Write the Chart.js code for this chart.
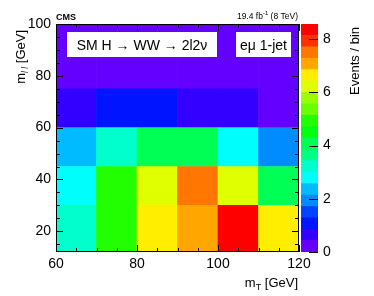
<!DOCTYPE html>
<html>
<head>
<meta charset="utf-8">
<script src="https://cdn.jsdelivr.net/npm/chart.js@4/dist/chart.umd.min.js"></script>
<style>
  html, body { margin: 0; padding: 0; background: #fff; }
  #wrap { position: relative; width: 374px; height: 296px; }
  #main { position: absolute; left: 0; top: 0; }
  #zbar { position: absolute; left: 290px; top: 0; }
</style>
</head>
<body>
<div id="wrap">
  <canvas id="main" width="374" height="296"></canvas>
  <canvas id="zbar" width="84" height="296"></canvas>
</div>
<script>
// bin edges
const xEdges = [60, 70, 80, 90, 100, 110, 120];   // mT [GeV]
const yEdges = [12, 30, 45, 60, 75, 100];         // mll [GeV]

// events / bin, one array per mll row, bottom to top
const row12to30 = [3.2, 4.9, 6.6, 7.1, 8.57, 6.6];
const row30to45 = [2.8, 4.9, 6.2, 7.5, 6.2, 4.1];
const row45to60 = [2.4, 3.2, 4.1, 4.1, 2.8, 1.9];
const row60to75 = [0.64, 1.07, 1.07, 0.64, 0.64, 0.2];
const row75to100 = [0.2, 0.2, 0.2, 0.2, 0.2, 0.15];
const rows = [row12to30, row30to45, row45to60, row60to75, row75to100];

const xTicks = [60, 80, 100, 120];
const yTicks = [20, 40, 60, 80, 100];
const zTicks = [0, 2, 4, 6, 8];
const nContours = 20;

const fontFam = "'Liberation Sans', Arial, Helvetica, sans-serif";
const zMax = Math.max(...rows.flat());

// ROOT "pretty" palette, 50 colours, picked by contour level
function levelColor(j) {
    const idx = Math.floor((j + 0.99) * 50 / nContours);
    const hue = 280 - (idx + 1) * 5.6;
    return `hsl(${hue},100%,50%)`;
}
function cellColor(v) {
    const j = Math.min(nContours - 1, Math.floor(v / zMax * nContours));
    return levelColor(j);
}

function richText(ctx, parts, x, y, align) {
    let total = 0;
    parts.forEach(p => {
        ctx.font = `${p.style || 'normal'} ${p.weight || 'normal'} ${p.size}px ${fontFam}`;
        p.w = ctx.measureText(p.text).width;
        total += p.w;
    });
    let cx = align === 'right' ? x - total : align === 'center' ? x - total / 2 : x;
    parts.forEach(p => {
        ctx.font = `${p.style || 'normal'} ${p.weight || 'normal'} ${p.size}px ${fontFam}`;
        ctx.fillText(p.text, cx, y + (p.dy || 0));
        cx += p.w;
    });
}

function line(ctx, x1, y1, x2, y2) {
    ctx.beginPath();
    ctx.moveTo(x1, y1);
    ctx.lineTo(x2, y2);
    ctx.stroke();
}

const decor = {
    id: 'decor',
    afterDatasetsDraw(chart) {
        const { ctx, chartArea: a, scales: { x, y } } = chart;
        ctx.save();
        ctx.strokeStyle = '#000';
        ctx.lineWidth = 1;
        // inner ticks, ROOT style
        for (let v = 60; v <= 120; v += 5) {
            const px = Math.round(x.getPixelForValue(v)) + 0.5;
            const len = xTicks.includes(v) ? 7 : 4;
            line(ctx, px, a.bottom, px, a.bottom - len);
            line(ctx, px, a.top, px, a.top + len);
        }
        for (let v = 15; v <= 100; v += 5) {
            const py = Math.round(y.getPixelForValue(v)) + 0.5;
            const len = yTicks.includes(v) ? 7 : 4;
            line(ctx, a.left, py, a.left + len, py);
            line(ctx, a.right, py, a.right - len, py);
        }
        ctx.strokeRect(Math.round(a.left) + 0.5, Math.round(a.top) + 0.5,
            Math.round(a.width) - 1, Math.round(a.height) - 1);

        // labels inside the frame
        ctx.fillStyle = '#fff';
        ctx.fillRect(67, 32, 150, 25);
        ctx.fillRect(236, 32, 55, 25);
        ctx.fillStyle = '#000';
        ctx.textBaseline = 'alphabetic';
        ctx.textAlign = 'left';
        richText(ctx, [{ text: 'SM H \u2192 WW \u2192 2l2\u03bd', size: 14 }], 142, 49.5, 'center');
        richText(ctx, [{ text: 'e\u03bc 1-jet', size: 14 }], 263.5, 49.5, 'center');
        ctx.restore();
    },
    afterDraw(chart) {
        const { ctx } = chart;
        ctx.save();
        ctx.fillStyle = '#000';
        ctx.textBaseline = 'alphabetic';
        ctx.textAlign = 'left';
        richText(ctx, [{ text: 'CMS', size: 9, weight: 'bold' }], 56, 19.5, 'left');
        richText(ctx, [
            { text: '19.4 fb', size: 8.5 },
            { text: '-1', size: 6, dy: -3.5 },
            { text: ' (8 TeV)', size: 8.5 }
        ], 298, 18.7, 'right');
        // x title
        richText(ctx, [
            { text: 'm', size: 13 },
            { text: 'T', size: 9, dy: 3 },
            { text: ' [GeV]', size: 13 }
        ], 298, 286.5, 'right');
        // y title
        ctx.translate(24.5, 30);
        ctx.rotate(-Math.PI / 2);
        richText(ctx, [
            { text: 'm', size: 13 },
            { text: 'l l', size: 8.5, style: 'italic', dy: 3 },
            { text: ' [GeV]', size: 13 }
        ], 0, 0, 'right');
        ctx.restore();
    }
};

const datasets = rows.map((vals, r) => ({
    data: vals.map((v, i) => ({ x: (xEdges[i] + xEdges[i + 1]) / 2, y: [yEdges[r], yEdges[r + 1]] })),
    backgroundColor: vals.map(cellColor),
    borderWidth: 0,
    grouped: false,
    barPercentage: 1,
    categoryPercentage: 1
}));

const tickFont = { family: fontFam, size: 14 };

new Chart(document.getElementById('main'), {
    type: 'bar',
    data: { datasets },
    options: {
        responsive: false,
        animation: false,
        layout: { padding: { left: 0, right: 75, top: 24, bottom: 0 } },
        plugins: { legend: { display: false }, tooltip: { enabled: false } },
        scales: {
            x: {
                type: 'linear', min: 60, max: 120, offset: false,
                afterBuildTicks: s => { s.ticks = xTicks.map(v => ({ value: v })); },
                afterFit: s => { s.height = 44; },
                grid: { display: false, drawTicks: false, offset: false },
                border: { display: false },
                ticks: { color: '#000', font: tickFont, padding: 4, maxRotation: 0 }
            },
            y: {
                type: 'linear', min: 12, max: 100,
                afterBuildTicks: s => { s.ticks = yTicks.map(v => ({ value: v })); },
                afterFit: s => { s.width = 56; },
                grid: { display: false, drawTicks: false },
                border: { display: false },
                ticks: { color: '#000', font: tickFont, padding: 5 }
            }
        }
    },
    plugins: [decor]
});

// colour scale
const zLevels = Array.from({ length: nContours }, (_, j) => j);
const zDecor = {
    id: 'zDecor',
    afterDraw(chart) {
        const { ctx, chartArea: a, scales: { y } } = chart;
        ctx.save();
        ctx.strokeStyle = '#000';
        ctx.lineWidth = 1;
        zTicks.forEach(v => {
            const py = Math.round(y.getPixelForValue(v)) + 0.5;
            line(ctx, a.right, py, a.right - 9, py);
        });
        ctx.fillStyle = '#000';
        ctx.textBaseline = 'alphabetic';
        ctx.textAlign = 'left';
        ctx.translate(69, 27);
        ctx.rotate(-Math.PI / 2);
        richText(ctx, [{ text: 'Events / bin', size: 13 }], 0, 0, 'right');
        ctx.restore();
    }
};

new Chart(document.getElementById('zbar'), {
    type: 'bar',
    data: {
        labels: [''],
        datasets: zLevels.map(j => ({
            data: [[j * zMax / nContours, (j + 1) * zMax / nContours]],
            backgroundColor: levelColor(j),
            borderWidth: 0,
            grouped: false,
            barPercentage: 1,
            categoryPercentage: 1
        }))
    },
    options: {
        responsive: false,
        animation: false,
        layout: { padding: { left: 11, right: 0, top: 24, bottom: 44 } },
        plugins: { legend: { display: false }, tooltip: { enabled: false } },
        scales: {
            x: { display: false },
            y: {
                position: 'right', min: 0, max: zMax,
                afterBuildTicks: s => { s.ticks = zTicks.map(v => ({ value: v })); },
                afterFit: s => { s.width = 56; },
                grid: { display: false, drawTicks: false },
                border: { display: false },
                ticks: { color: '#000', font: tickFont, padding: 5 }
            }
        }
    },
    plugins: [zDecor]
});
</script>
</body>
</html>
